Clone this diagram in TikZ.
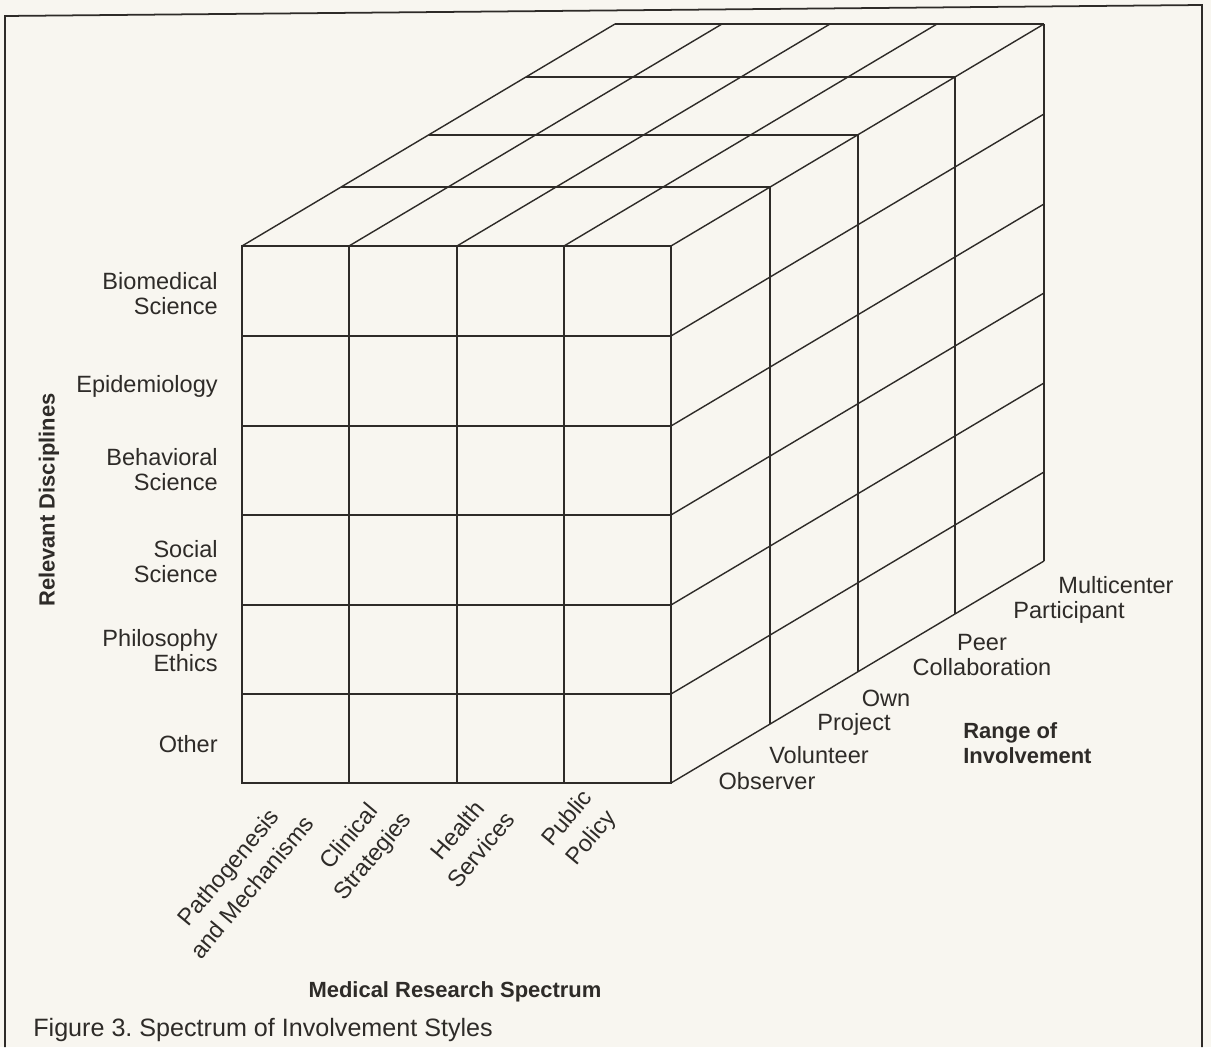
\documentclass[tikz,border=0pt]{standalone}
\usepackage{fontspec}
\setmainfont{Liberation Sans}
\usetikzlibrary{positioning}
\frenchspacing

\definecolor{paper}{HTML}{F8F6F0}
\definecolor{ink}{HTML}{2E2B28}

\begin{document}
\begin{tikzpicture}[
    x=0.02cm, y=-0.02cm,
    gridline/.style={draw=ink, line width=0.8pt},
    framebox/.style={draw=ink, line width=1pt},
    rowlabel/.style={font=\fontsize{13.4}{14.2}\selectfont, text=ink, align=right, anchor=east, inner sep=0pt},
    levellabel/.style={font=\fontsize{13.4}{14.2}\selectfont, text=ink, align=center, inner sep=0pt},
    fieldlabel/.style={font=\fontsize{13.4}{17.5}\selectfont, text=ink, align=center, rotate=50, inner sep=0pt},
    axistitle/.style={font=\bfseries\fontsize{12.5}{14.2}\selectfont, text=ink, inner sep=0pt}
]
    % Page background and frame
    \fill[paper] (0,0) rectangle (1211,1047);
    \draw[framebox] (5,1047) -- (5,16) -- (1202,5) -- (1202,1047);

    % Front face
    \draw[gridline] (242,246) rectangle (671,783);
    \draw[gridline] (349,246) -- (349,783) (457,246) -- (457,783) (564,246) -- (564,783);
    \draw[gridline] (242,336) -- (671,336) (242,426) -- (671,426) (242,515) -- (671,515)
                    (242,605) -- (671,605) (242,694) -- (671,694);

    % Top face
    \draw[gridline] (242,246) -- ++(373,-222) (349,246) -- ++(373,-222) (457,246) -- ++(373,-222)
                    (564,246) -- ++(373,-222) (671,246) -- ++(373,-222);
    \draw[gridline] (341,187) -- ++(429,0) (429,135) -- ++(429,0) (526,77) -- ++(429,0) (615,24) -- ++(429,0);

    % Right face
    \draw[gridline] (770,187) -- ++(0,537) (858,135) -- ++(0,537) (955,77) -- ++(0,537) (1044,24) -- ++(0,537);
    \draw[gridline] (671,336) -- ++(373,-222) (671,426) -- ++(373,-222) (671,515) -- ++(373,-222)
                    (671,605) -- ++(373,-222) (671,694) -- ++(373,-222) (671,783) -- ++(373,-222);

    % Relevant disciplines (rows)
    \node[rowlabel] (biomed) at (218,294) {Biomedical\\Science};
    \node[rowlabel] (epidem) at (218,386) {Epidemiology};
    \node[rowlabel] (behav) at (218,470) {Behavioral\\Science};
    \node[rowlabel] (social) at (218,562) {Social\\Science};
    \node[rowlabel] (philo) at (218,651) {Philosophy\\Ethics};
    \node[rowlabel] (other) at (218,744) {Other};
    \node[axistitle, rotate=90] (disciplines) at (49,500) {Relevant Disciplines};

    % Medical research spectrum (columns)
    \node[fieldlabel] (patho) at (240,877) {Pathogenesis\\and Mechanisms};
    \node[fieldlabel] (clinic) at (362,847) {Clinical\\Strategies};
    \node[fieldlabel] (health) at (469,840) {Health\\Services};
    \node[fieldlabel] (policy) at (580,829) {Public\\Policy};
    \node[axistitle] (spectrum) at (455,992) {Medical Research Spectrum};

    % Range of involvement (depth)
    \node[levellabel] (observer) at (767,781) {Observer};
    \node[levellabel] (volunteer) at (819,755) {Volunteer};
    \node[levellabel] (project) at (854,724) {Project};
    \node[levellabel] (own) at (886,698) {Own};
    \node[levellabel] (peer) at (982,655) {Peer\\Collaboration};
    \node[levellabel] (participant) at (1069,612) {Participant};
    \node[levellabel] (multicenter) at (1116,585) {Multicenter};
    \node[axistitle, align=left, anchor=west] (range) at (963,743) {Range of\\Involvement};

    % Caption
    \node[anchor=west, inner sep=0pt, text=ink, font=\fontsize{14.3}{16}\selectfont] (caption) at (33,1030)
        {Figure 3. Spectrum of Involvement Styles};

\end{tikzpicture}
\end{document}
